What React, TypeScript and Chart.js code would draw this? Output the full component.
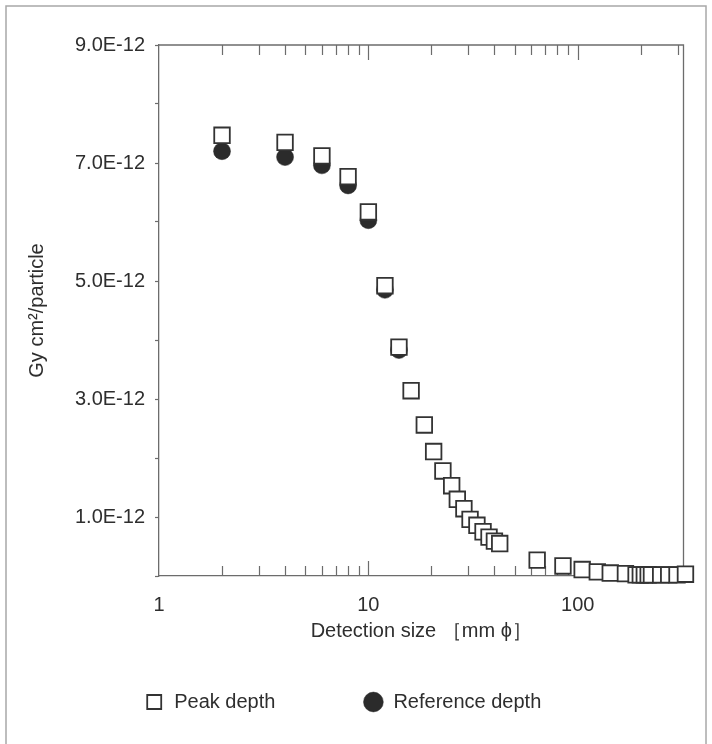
import React, { useEffect, useRef } from "react";
import { Chart, registerables } from "chart.js";

Chart.register(...registerables);

// ---- data ----
const peakX = [
  2, 4, 6, 8, 10, 12, 14, 16, 18.5,
  20.5, 22.7, 25, 26.6, 28.6, 30.6, 33, 35.3, 37.7, 40, 42.4,
  64, 85, 105, 124, 143, 169, 190, 199, 208, 217, 225, 249, 272, 298, 327,
];
const peakY = [
  7.47e-12, 7.35e-12, 7.12e-12, 6.77e-12, 6.17e-12, 4.92e-12, 3.88e-12, 3.14e-12, 2.56e-12,
  2.11e-12, 1.78e-12, 1.53e-12, 1.3e-12, 1.14e-12, 0.96e-12, 0.86e-12, 0.75e-12, 0.66e-12, 0.59e-12, 0.55e-12,
  0.27e-12, 0.17e-12, 0.11e-12, 0.07e-12, 0.05e-12, 0.04e-12, 0.02e-12, 0.02e-12, 0.02e-12, 0.02e-12,
  0.02e-12, 0.02e-12, 0.02e-12, 0.02e-12, 0.03e-12,
];
const refX = [2, 4, 6, 8, 10, 12, 14];
const refY = [7.2e-12, 7.1e-12, 6.96e-12, 6.62e-12, 6.03e-12, 4.85e-12, 3.83e-12];

const seriesNames = ["Peak depth", "Reference depth"];

const xLabelValues = [1, 10, 100];
const xMinorTickValues = [2, 3, 4, 5, 6, 7, 8, 9, 20, 30, 40, 50, 60, 70, 80, 90, 200, 300];
const xMajorTickValues = [10, 100];
const yTickValues = [0, 1e-12, 2e-12, 3e-12, 4e-12, 5e-12, 6e-12, 7e-12, 8e-12, 9e-12];
const yTickLabels = ["", "1.0E-12", "", "3.0E-12", "", "5.0E-12", "", "7.0E-12", "", "9.0E-12"];

const xTitle = "Detection size ［mm ϕ］";
const yTitle = "Gy cm²/particle";

// ---- styles ----
const FONT = "'Liberation Sans', Arial, Helvetica, sans-serif";
const TEXT = "#2e2e2e";
const AXIS = "#6c6c6c";
const MARK = "#333333";
const FILL = "#2b2b2b";
const LEGEND_PAD = 88;
const LEGEND_ITEM_TOP = 692;

const decorPlugin = {
  id: "decor",
  afterLayout(chart: any) {
    const lg = chart.legend;
    if (lg) {
      lg.top = LEGEND_ITEM_TOP - LEGEND_PAD;
      lg.bottom = LEGEND_ITEM_TOP + 40;
      lg.height = lg.bottom - lg.top;
    }
  },
  beforeDraw(chart: any) {
    const ctx = chart.ctx;
    ctx.save();
    ctx.strokeStyle = "#a8a8a8";
    ctx.lineWidth = 1.5;
    ctx.strokeRect(6, 6, 700, 800);
    ctx.restore();
  },
  beforeDatasetsDraw(chart: any) {
    const { ctx, chartArea: a } = chart;
    const x = chart.scales.x;
    ctx.save();
    ctx.strokeStyle = AXIS;
    ctx.lineWidth = 1.3;
    ctx.beginPath();
    ctx.moveTo(a.left, a.top);
    ctx.lineTo(a.right, a.top);
    ctx.lineTo(a.right, a.bottom);
    ctx.stroke();
    const drawTicks = (vals: number[], len: number) => {
      vals.forEach((v) => {
        const px = Math.round(x.getPixelForValue(v)) + 0.5;
        ctx.beginPath();
        ctx.moveTo(px, a.bottom);
        ctx.lineTo(px, a.bottom - len);
        ctx.moveTo(px, a.top);
        ctx.lineTo(px, a.top + len);
        ctx.stroke();
      });
    };
    ctx.lineWidth = 1.2;
    drawTicks(xMinorTickValues, 10);
    drawTicks(xMajorTickValues, 15);
    ctx.restore();
  },
};

export default function App() {
  const ref = useRef<HTMLCanvasElement>(null);

  useEffect(() => {
    if (!ref.current) return;
    Chart.defaults.font.family = FONT;
    const chart = new Chart(ref.current, {
      type: "scatter",
      data: {
        datasets: [
          {
            label: seriesNames[0],
            data: peakX.map((x, i) => ({ x, y: peakY[i] })),
            pointStyle: "rect",
            pointRadius: 11,
            pointHoverRadius: 11,
            backgroundColor: "#ffffff",
            borderColor: MARK,
            borderWidth: 1.8,
            clip: false,
          },
          {
            label: seriesNames[1],
            data: refX.map((x, i) => ({ x, y: refY[i] })),
            pointStyle: "circle",
            pointRadius: 8.5,
            pointHoverRadius: 8.5,
            backgroundColor: FILL,
            borderColor: FILL,
            borderWidth: 0.5,
            clip: false,
          },
        ],
      },
      options: {
        responsive: false,
        animation: false,
        events: [],
        layout: { padding: { left: 2, right: 28.5, top: 45, bottom: 71 } },
        plugins: {
          tooltip: { enabled: false },
          legend: {
            position: "bottom",
            maxHeight: 30,
            labels: {
              usePointStyle: true,
              boxHeight: 14,
              padding: LEGEND_PAD,
              color: TEXT,
              font: { size: 20, family: FONT },
            },
          },
        },
        scales: {
          x: {
            type: "logarithmic",
            min: 1,
            max: 320,
            afterBuildTicks: (s: any) => {
              s.ticks = xLabelValues.map((v) => ({ value: v }));
            },
            ticks: {
              callback: (v: any) => String(v),
              autoSkip: false,
              maxRotation: 0,
              padding: 0,
              color: TEXT,
              font: { size: 20, family: FONT },
            },
            grid: {
              display: true,
              drawOnChartArea: false,
              drawTicks: true,
              tickLength: 17,
              tickColor: "rgba(0,0,0,0)",
            },
            border: { display: true, color: AXIS, width: 1.3 },
            title: {
              display: true,
              text: xTitle,
              color: TEXT,
              font: { size: 20, family: FONT },
              padding: { top: 2, bottom: 0 },
            },
          },
          y: {
            type: "linear",
            min: 0,
            max: 9e-12,
            afterBuildTicks: (s: any) => {
              s.ticks = yTickValues.map((v) => ({ value: v }));
            },
            afterFit: (s: any) => {
              s.width = 157;
            },
            ticks: {
              callback: (_v: any, i: number) => yTickLabels[i],
              autoSkip: false,
              padding: 10,
              color: TEXT,
              font: { size: 20, family: FONT },
            },
            grid: {
              display: true,
              drawOnChartArea: false,
              drawTicks: true,
              tickLength: 4,
              tickColor: AXIS,
              tickWidth: 1.2,
            },
            border: { display: true, color: AXIS, width: 1.3 },
            title: {
              display: true,
              text: yTitle,
              color: TEXT,
              font: { size: 20, family: FONT },
              padding: { top: 23, bottom: 0 },
            },
          },
        },
      } as any,
      plugins: [decorPlugin],
    });
    return () => chart.destroy();
  }, []);

  return (
    <div style={{ position: "absolute", left: 0, top: 0, width: 712, height: 744, background: "#ffffff" }}>
      <canvas ref={ref} width={712} height={744} style={{ display: "block" }} />
    </div>
  );
}
